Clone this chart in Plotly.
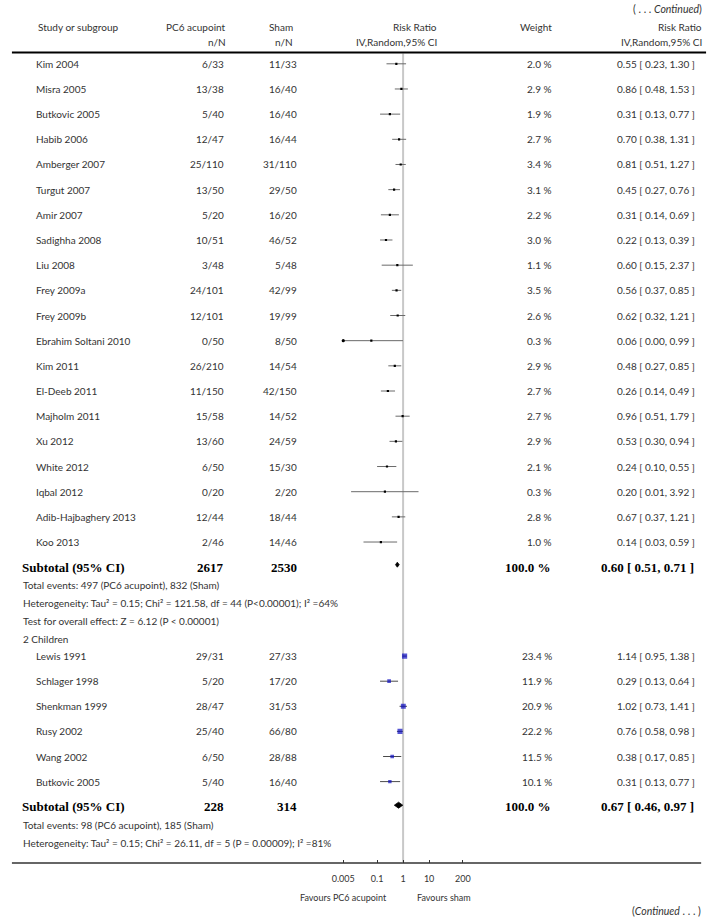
import plotly.graph_objects as go

W, H = 714, 922

# ---------------- data ----------------
g1_names = ["Kim 2004", "Misra 2005", "Butkovic 2005", "Habib 2006", "Amberger 2007",
            "Turgut 2007", "Amir 2007", "Sadighha 2008", "Liu 2008", "Frey 2009a",
            "Frey 2009b", "Ebrahim Soltani 2010", "Kim 2011", "El-Deeb 2011", "Majholm 2011",
            "Xu 2012", "White 2012", "Iqbal 2012", "Adib-Hajbaghery 2013", "Koo 2013"]
g1_pc6 = ["6/33", "13/38", "5/40", "12/47", "25/110", "13/50", "5/20", "10/51", "3/48", "24/101",
          "12/101", "0/50", "26/210", "11/150", "15/58", "13/60", "6/50", "0/20", "12/44", "2/46"]
g1_sham = ["11/33", "16/40", "16/40", "16/44", "31/110", "29/50", "16/20", "46/52", "5/48", "42/99",
           "19/99", "8/50", "14/54", "42/150", "14/52", "24/59", "15/30", "2/20", "18/44", "14/46"]
g1_weight = [2.0, 2.9, 1.9, 2.7, 3.4, 3.1, 2.2, 3.0, 1.1, 3.5,
             2.6, 0.3, 2.9, 2.7, 2.7, 2.9, 2.1, 0.3, 2.8, 1.0]
g1_rr = [0.55, 0.86, 0.31, 0.70, 0.81, 0.45, 0.31, 0.22, 0.60, 0.56,
         0.62, 0.06, 0.48, 0.26, 0.96, 0.53, 0.24, 0.20, 0.67, 0.14]
g1_lo = [0.23, 0.48, 0.13, 0.38, 0.51, 0.27, 0.14, 0.13, 0.15, 0.37,
         0.32, 0.00, 0.27, 0.14, 0.51, 0.30, 0.10, 0.01, 0.37, 0.03]
g1_hi = [1.30, 1.53, 0.77, 1.31, 1.27, 0.76, 0.69, 0.39, 2.37, 0.85,
         1.21, 0.99, 0.85, 0.49, 1.79, 0.94, 0.55, 3.92, 1.21, 0.59]
g1_total = ["2617", "2530"]
g1_sub = [0.60, 0.51, 0.71]
g1_info = ["Total events: 497 (PC6 acupoint), 832 (Sham)",
           "Heterogeneity: Tau² = 0.15; Chi² = 121.58, df = 44 (P<0.00001); I² =64%",
           "Test for overall effect: Z = 6.12 (P < 0.00001)"]

g2_title = "2 Children"
g2_names = ["Lewis 1991", "Schlager 1998", "Shenkman 1999", "Rusy 2002", "Wang 2002", "Butkovic 2005"]
g2_pc6 = ["29/31", "5/20", "28/47", "25/40", "6/50", "5/40"]
g2_sham = ["27/33", "17/20", "31/53", "66/80", "28/88", "16/40"]
g2_weight = [23.4, 11.9, 20.9, 22.2, 11.5, 10.1]
g2_rr = [1.14, 0.29, 1.02, 0.76, 0.38, 0.31]
g2_lo = [0.95, 0.13, 0.73, 0.58, 0.17, 0.13]
g2_hi = [1.38, 0.64, 1.41, 0.98, 0.85, 0.77]
g2_total = ["228", "314"]
g2_sub = [0.67, 0.46, 0.97]
g2_info = ["Total events: 98 (PC6 acupoint), 185 (Sham)",
           "Heterogeneity: Tau² = 0.15; Chi² = 26.11, df = 5 (P = 0.00009); I² =81%"]

tick_vals = [0.005, 0.1, 1, 10, 200]
tick_text = ["0.005", "0.1", "1", "10", "200"]
fav_left = "Favours PC6 acupoint"
fav_right = "Favours sham"

# ---------------- layout constants ----------------
X1_PX = 401.85
PX_PER_DEC = 26.45
LOG_MIN, LOG_MAX = -2.45, 2.45
AXIS_FLOOR = 0.005
dom = [(X1_PX + LOG_MIN * PX_PER_DEC) / W, (X1_PX + LOG_MAX * PX_PER_DEC) / W]

ROW1_Y, ROW_STEP = 63.8, 25.17
y_g1 = [ROW1_Y + i * ROW_STEP for i in range(len(g1_names))]
y_sub1 = ROW1_Y + len(g1_names) * ROW_STEP
INFO_STEP = 17.8
y_info1 = [y_sub1 + 18 + i * INFO_STEP for i in range(len(g1_info))]
y_g2title = y_info1[-1] + INFO_STEP
y_g2 = [y_g2title + 17.5 + i * 25.1 for i in range(len(g2_names))]
y_sub2 = y_g2[-1] + 25.1
y_info2 = [y_sub2 + 18 + i * INFO_STEP for i in range(len(g2_info))]
TOP_LINE_Y = 52.5
AXIS_Y = 863

FONT = "Lato, 'Open Sans', sans-serif"
SERIF = "'Liberation Serif', 'DejaVu Serif', serif"
TXT = "#333333"
FS = 10


def px(x):
    return x / W


annotations = []


def txt(x, y, s, anchor="left", size=FS, family=FONT, color=TXT):
    annotations.append(dict(x=px(x), y=y, xref="paper", yref="y", text=s, showarrow=False,
                            xanchor=anchor, yanchor="middle",
                            font=dict(family=family, size=size, color=color)))


def bold(x, y, s, anchor="left"):
    txt(x, y, "<b>" + s + "</b>", anchor, 13, SERIF, "#000000")


# header
txt(708, 8.5, "( . . . <i>Continued</i>)", "right", 10.5)
txt(28, 26.5, "Study or subgroup")
txt(224, 26.5, "PC6 acupoint", "right")
txt(292, 26.5, "Sham", "right")
txt(438, 26.5, "Risk Ratio", "right")
txt(555.5, 26.5, "Weight", "right")
txt(708, 26.5, "Risk Ratio", "right")
txt(224, 42, "n/N", "right")
txt(292, 42, "n/N", "right")
txt(438, 42, "IV,Random,95% CI", "right")
txt(708, 42, "IV,Random,95% CI", "right")


def study_rows(names, pc6, sham, weight, rr, lo, hi, ys):
    for n, a, b, w, r, l, h, y in zip(names, pc6, sham, weight, rr, lo, hi, ys):
        txt(26, y, n)
        txt(222, y, a, "right")
        txt(296, y, b, "right")
        txt(555.5, y, f"{w:.1f} %", "right")
        txt(701, y, f"{r:.2f} [ {l:.2f}, {h:.2f} ]", "right")


study_rows(g1_names, g1_pc6, g1_sham, g1_weight, g1_rr, g1_lo, g1_hi, y_g1)
bold(12.5, y_sub1, "Subtotal (95% CI)")
bold(222, y_sub1, g1_total[0], "right")
bold(296, y_sub1, g1_total[1], "right")
bold(554, y_sub1, "100.0 %", "right")
bold(700, y_sub1, f"{g1_sub[0]:.2f} [ {g1_sub[1]:.2f}, {g1_sub[2]:.2f} ]", "right")
for s, y in zip(g1_info, y_info1):
    txt(13, y, s)
txt(13, y_g2title, g2_title)
study_rows(g2_names, g2_pc6, g2_sham, g2_weight, g2_rr, g2_lo, g2_hi, y_g2)
bold(12.5, y_sub2, "Subtotal (95% CI)")
bold(222, y_sub2, g2_total[0], "right")
bold(296, y_sub2, g2_total[1], "right")
bold(554, y_sub2, "100.0 %", "right")
bold(700, y_sub2, f"{g2_sub[0]:.2f} [ {g2_sub[1]:.2f}, {g2_sub[2]:.2f} ]", "right")
for s, y in zip(g2_info, y_info2):
    txt(13, y, s)

# footer
txt(388, 897, fav_left, "right", 9)
txt(414, 897, fav_right, "left", 9)
txt(707, 911, "(<i>Continued</i> . . . )", "right", 10.5)

fig = go.Figure()

# reference line at RR = 1
fig.add_trace(go.Scatter(x=[1, 1], y=[TOP_LINE_Y + 1, AXIS_Y - 1], mode="lines",
                         line=dict(color="#c8c8c8", width=2), hoverinfo="skip"))


def ci_trace(lo, hi, ys, color, width):
    xs, yy = [], []
    for l, h, y in zip(lo, hi, ys):
        xs += [max(l, AXIS_FLOOR), h, None]
        yy += [y, y, None]
    fig.add_trace(go.Scatter(x=xs, y=yy, mode="lines", line=dict(color=color, width=width),
                             hoverinfo="skip"))
    clip_x = [AXIS_FLOOR for l in lo if l < AXIS_FLOOR]
    clip_y = [y for l, y in zip(lo, ys) if l < AXIS_FLOOR]
    if clip_x:
        fig.add_trace(go.Scatter(x=clip_x, y=clip_y, mode="markers",
                                 marker=dict(color="#000", size=3.2, symbol="circle"),
                                 hoverinfo="skip"))


ci_trace(g1_lo, g1_hi, y_g1, "#6a6a6a", 1)
fig.add_trace(go.Scatter(x=g1_rr, y=y_g1, mode="markers",
                         marker=dict(color="#000000", size=2.2, symbol="square", line=dict(width=0)),
                         hoverinfo="skip"))

ci_trace(g2_lo, g2_hi, y_g2, "#4a4a4a", 1)
fig.add_trace(go.Scatter(x=g2_rr, y=y_g2, mode="markers",
                         marker=dict(color="#0c0cc0", symbol="square",
                                     size=[5.2 * (w / max(g2_weight)) ** 0.5 for w in g2_weight],
                                     line=dict(width=0)),
                         hoverinfo="skip"))


def diamond(sub, y, half):
    est, lo, hi = sub
    fig.add_trace(go.Scatter(x=[lo, est, hi, est, lo], y=[y, y - half, y, y + half, y],
                             mode="lines", fill="toself", fillcolor="#000000",
                             line=dict(color="#000000", width=0.8), hoverinfo="skip"))


diamond(g1_sub, y_sub1 - 2.5, 2.5)
diamond(g2_sub, y_sub2 - 1.5, 3)

shapes = [
    dict(type="line", xref="paper", yref="y", x0=px(4), x1=px(710), y0=TOP_LINE_Y, y1=TOP_LINE_Y,
         line=dict(color="#000000", width=2)),
    dict(type="line", xref="paper", yref="y", x0=px(4), x1=px(705), y0=AXIS_Y, y1=AXIS_Y,
         line=dict(color="#333333", width=1.5)),
]

fig.update_layout(
    width=W, height=H, margin=dict(l=0, r=0, t=0, b=0),
    paper_bgcolor="white", plot_bgcolor="white", showlegend=False,
    annotations=annotations, shapes=shapes,
    xaxis=dict(type="log", range=[LOG_MIN, LOG_MAX], domain=dom, anchor="free",
               position=(H - AXIS_Y) / H, tickvals=tick_vals, ticktext=tick_text,
               ticks="inside", ticklen=3, tickwidth=1, tickcolor="#333333",
               showgrid=False, zeroline=False, showline=False, ticklabelstandoff=9,
               tickfont=dict(family=FONT, size=9, color=TXT), fixedrange=True),
    yaxis=dict(range=[H, 0], domain=[0, 1], visible=False, fixedrange=True),
)

fig.write_html("out.html", post_script="document.body.style.margin='0';",
               config={"displayModeBar": False})
